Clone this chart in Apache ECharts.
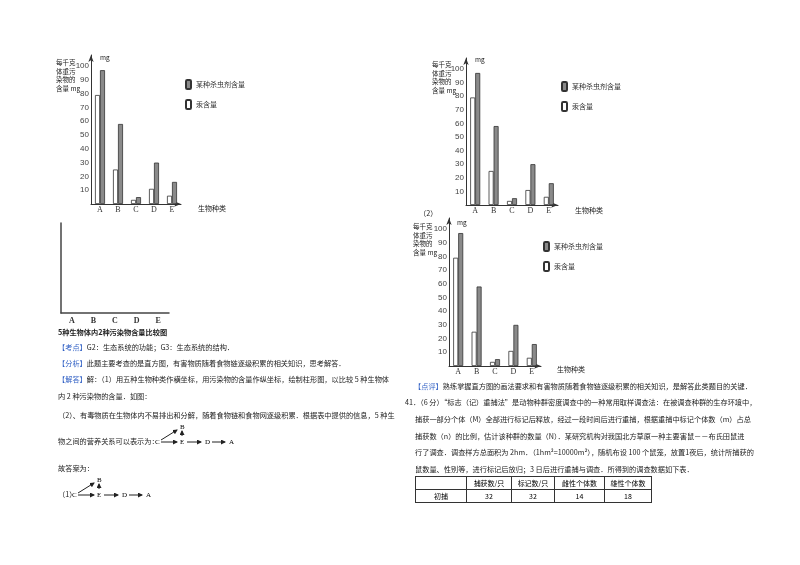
<!DOCTYPE html>
<html>
<head>
<meta charset="utf-8">
<script src="https://cdn.jsdelivr.net/npm/echarts@6/dist/echarts.min.js"></script>
<style>
  body { margin: 0; background: #fff; }
  #chart { position: absolute; left: 0; top: 0; width: 800px; height: 565px; }
  .t { position: absolute; white-space: nowrap; font-family: "Noto Sans CJK SC", serif; font-size: 7.2px; color: #222; }
  .b { color: #2f5fc4; }
  .yn { position: absolute; font-family: "Noto Sans CJK SC"; font-size: 6.5px; line-height: 8.5px; color: #222; }
  table { position: absolute; left: 415px; top: 476px; border-collapse: collapse; font-family: "Noto Sans CJK SC"; font-size: 7px; }
  td { border: 1px solid #333; height: 12px; text-align: center; padding: 0; }
</style>
</head>
<body>
<div id="chart"></div>
<script>
const categories = ["A", "B", "C", "D", "E"];
const mercury = [79, 25, 3, 11, 6];
const pesticide = [97, 58, 5, 30, 16];
const pesticideName = "某种杀虫剂含量";
const mercuryName = "汞含量";

// one grid per drawn chart: top edge is the value 108
const grids = [
  { left: 91, top: 55, width: 90, height: 149 },
  { left: 466, top: 58, width: 92, height: 147 },
  { left: 449, top: 218, width: 92, height: 148 },
];
const legendPos = [[180, 74], [556, 76], [538, 236]];
const nameLabels = [[198, 204], [575, 206], [557, 365]];

const chart = echarts.init(document.getElementById("chart"));
const option = { animation: false, grid: [], xAxis: [], yAxis: [], series: [], legend: [] };
grids.forEach((g, i) => {
  option.grid.push(g);
  option.xAxis.push({
    type: "category", gridIndex: i, data: categories,
    axisLine: { lineStyle: { color: "#333" }, symbol: ["none", "arrow"], symbolSize: [4, 7] },
    axisTick: { show: false },
    axisLabel: { fontFamily: "Liberation Serif", fontSize: 8, color: "#333", margin: 2 },
  });
  option.yAxis.push({
    type: "value", gridIndex: i, min: 0, max: 108, interval: 10,
    splitLine: { show: false },
    axisLine: { show: true, lineStyle: { color: "#333" }, symbol: ["none", "arrow"], symbolSize: [4, 7] },
    axisTick: { show: false },
    axisLabel: { showMaxLabel: false, fontSize: 8, color: "#444", margin: 2, formatter: (v) => (v === 0 ? "" : v) },
  });
  option.series.push(
    { name: mercuryName, type: "bar", xAxisIndex: i, yAxisIndex: i, data: mercury, barWidth: 5, barGap: "0%",
      itemStyle: { color: "#fff", borderColor: "#333", borderWidth: 0.8 } },
    { name: pesticideName, type: "bar", xAxisIndex: i, yAxisIndex: i, data: pesticide, barWidth: 5,
      itemStyle: { color: "#8a8a8a", borderColor: "#333", borderWidth: 0.8 } }
  );
  option.legend.push({
    left: legendPos[i][0], top: legendPos[i][1], orient: "vertical", itemWidth: 5, itemHeight: 9, itemGap: 9,
    data: [pesticideName, mercuryName], selectedMode: false,
    textStyle: { fontSize: 7, color: "#333", fontFamily: "Noto Sans CJK SC" },
  });
});
// empty answer frame
option.grid.push({ left: 61, top: 223, width: 108, height: 90 });
option.xAxis.push({ type: "category", gridIndex: 3, data: categories,
  axisLine: { lineStyle: { color: "#444", width: 1.5 } }, axisTick: { show: false },
  axisLabel: { fontSize: 8, color: "#333", fontWeight: "bold", margin: 4, fontFamily: "Liberation Serif" } });
option.yAxis.push({ type: "value", gridIndex: 3, min: 0, max: 100, splitLine: { show: false },
  axisLine: { show: true, lineStyle: { color: "#444", width: 1.5 } }, axisTick: { show: false }, axisLabel: { show: false } });
chart.setOption(option);

const frag = nameLabels.map((p) => `<div class="yn" style="left:${p[0]}px;top:${p[1]}px;font-size:7px">生物种类</div>`).join("");
document.body.insertAdjacentHTML("beforeend", frag);
</script>
<div class="yn" style="left:56px;top:58px">每千克<br>体重污<br>染物的<br>含量 mg</div>
<div class="yn" style="left:100px;top:53px">mg</div>
<div class="yn" style="left:432px;top:60px">每千克<br>体重污<br>染物的<br>含量 mg</div>
<div class="yn" style="left:475px;top:55px">mg</div>
<div class="yn" style="left:413px;top:222px">每千克<br>体重污<br>染物的<br>含量 mg</div>
<div class="yn" style="left:457px;top:218px">mg</div>
<div class="t" style="left:419px;top:208px">（2）</div>

<div class="t" style="left:58px;top:327px;font-weight:bold">5种生物体内2种污染物含量比较图</div>
<div class="t" style="left:58px;top:342px"><span class="b">【考点】</span>G2：生态系统的功能；G3：生态系统的结构．</div>
<div class="t" style="left:58px;top:358px"><span class="b">【分析】</span>此题主要考查的是直方图，有害物质随着食物链逐级积累的相关知识，思考解答．</div>
<div class="t" style="left:58px;top:374px"><span class="b">【解答】</span>解：（1）用五种生物种类作横坐标，用污染物的含量作纵坐标，绘制柱形图，以比较 5 种生物体</div>
<div class="t" style="left:58px;top:391px">内 2 种污染物的含量．如图：</div>
<div class="t" style="left:58px;top:410px">（2）、有毒物质在生物体内不易排出和分解，随着食物链和食物网逐级积累．根据表中提供的信息，5 种生</div>
<div class="t" style="left:58px;top:436px">物之间的营养关系可以表示为：</div>
<svg style="position:absolute;left:155px;top:420px" width="80" height="30" font-size="7" font-family="Liberation Serif">
  <defs><marker id="a" markerWidth="5" markerHeight="5" refX="4" refY="2.5" orient="auto"><path d="M0,0L5,2.5L0,5z" fill="#222"/></marker></defs>
  <text x="0" y="24">C</text><text x="25" y="9">B</text><text x="25" y="24">E</text><text x="50" y="24">D</text><text x="74" y="24">A</text>
  <line x1="6" y1="20" x2="22" y2="10" stroke="#222" marker-end="url(#a)"/>
  <line x1="6" y1="22" x2="22" y2="22" stroke="#222" marker-end="url(#a)"/>
  <line x1="27" y1="16" x2="27" y2="11" stroke="#222" marker-end="url(#a)"/>
  <line x1="32" y1="22" x2="46" y2="22" stroke="#222" marker-end="url(#a)"/>
  <line x1="57" y1="22" x2="70" y2="22" stroke="#222" marker-end="url(#a)"/>
</svg>
<div class="t" style="left:58px;top:463px">故答案为：</div>
<div class="t" style="left:58px;top:489px">（1）</div>
<svg style="position:absolute;left:72px;top:473px" width="80" height="30" font-size="7" font-family="Liberation Serif">
  <text x="0" y="24">C</text><text x="25" y="9">B</text><text x="25" y="24">E</text><text x="50" y="24">D</text><text x="74" y="24">A</text>
  <line x1="6" y1="20" x2="22" y2="10" stroke="#222" marker-end="url(#a)"/>
  <line x1="6" y1="22" x2="22" y2="22" stroke="#222" marker-end="url(#a)"/>
  <line x1="27" y1="16" x2="27" y2="11" stroke="#222" marker-end="url(#a)"/>
  <line x1="32" y1="22" x2="46" y2="22" stroke="#222" marker-end="url(#a)"/>
  <line x1="57" y1="22" x2="70" y2="22" stroke="#222" marker-end="url(#a)"/>
</svg>

<div class="t" style="left:414px;top:381px"><span class="b">【点评】</span>熟练掌握直方图的画法要求和有害物质随着食物链逐级积累的相关知识，是解答此类题目的关键．</div>
<div class="t" style="left:405px;top:397px">41．（6 分）“标志（记）重捕法”是动物种群密度调查中的一种常用取样调查法：在被调查种群的生存环境中，</div>
<div class="t" style="left:415px;top:414px">捕获一部分个体（M）全部进行标记后释放，经过一段时间后进行重捕，根据重捕中标记个体数（m）占总</div>
<div class="t" style="left:415px;top:431px">捕获数（n）的比例，估计该种群的数量（N）．某研究机构对我国北方草原一种主要害鼠－－布氏田鼠进</div>
<div class="t" style="left:415px;top:447px">行了调查．调查样方总面积为 2hm．（1hm²=10000m²），随机布设 100 个鼠笼，放置1夜后，统计所捕获的</div>
<div class="t" style="left:415px;top:464px">鼠数量、性别等，进行标记后放归；3 日后进行重捕与调查．所得到的调查数据如下表．</div>
<table>
  <tr><td style="width:50px"></td><td style="width:44px">捕获数/只</td><td style="width:42px">标记数/只</td><td style="width:49px">雌性个体数</td><td style="width:46px">雄性个体数</td></tr>
  <tr><td>初捕</td><td>32</td><td>32</td><td>14</td><td>18</td></tr>
</table>
</body>
</html>
